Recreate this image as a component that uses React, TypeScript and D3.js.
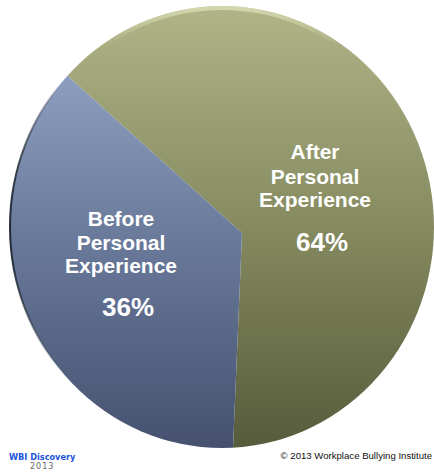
import React, { useMemo } from "react";
import * as d3 from "d3";

// ---- data ----
const categories = ["After", "Before"];
const labelLines = [
  ["After", "Personal", "Experience"],
  ["Before", "Personal", "Experience"],
];
const values = [64, 36];
const percentLabels = ["64%", "36%"];

// ---- layout ----
const W = 434;
const H = 474;
const apex = { x: 242, y: 233 };
const ell = { cx: 222, cy: 227, rx: 212, ry: 221 };
const startDeg = -48;
const labelPos = [
  { x: 315, lines: [159, 184, 207], px: 322, py: 251 },
  { x: 121, lines: [226, 250, 273], px: 128, py: 316 },
];
const gradIds = ["gOlive", "gBlue"];

export default function App() {
  const arcs = useMemo(() => {
    const pie = d3
      .pie<number>()
      .sort(null)
      .value((d) => d)
      .startAngle((startDeg * Math.PI) / 180)
      .endAngle((startDeg * Math.PI) / 180 + 2 * Math.PI);
    return pie(values);
  }, []);
  const arcGen = d3.arc<d3.PieArcDatum<number>>().innerRadius(0).outerRadius(330);
  const gy1 = ell.cy - ell.ry - apex.y;
  const gy2 = ell.cy + ell.ry - apex.y;

  return (
    <svg
      width={W}
      height={H}
      viewBox={`0 0 ${W} ${H}`}
      style={{ position: "absolute", left: 0, top: 0, background: "#fff" }}
    >
      <defs>
        <clipPath id="ellClip">
          <ellipse cx={ell.cx} cy={ell.cy} rx={ell.rx} ry={ell.ry} />
        </clipPath>
        <linearGradient id="gOlive" gradientUnits="userSpaceOnUse" x1="0" y1={gy1} x2="0" y2={gy2}>
          <stop offset="0" stopColor="#b0b487" />
          <stop offset="0.5" stopColor="#858a60" />
          <stop offset="1" stopColor="#565b3c" />
        </linearGradient>
        <linearGradient id="gBlue" gradientUnits="userSpaceOnUse" x1="0" y1={gy1} x2="0" y2={gy2}>
          <stop offset="0" stopColor="#9cadcd" />
          <stop offset="0.5" stopColor="#6c7c9d" />
          <stop offset="1" stopColor="#45516f" />
        </linearGradient>
        <linearGradient id="gRim" gradientUnits="userSpaceOnUse" x1={ell.cx - ell.rx} y1="0" x2={ell.cx - ell.rx + 50} y2="0">
          <stop offset="0" stopColor="#1b2430" stopOpacity="0.95" />
          <stop offset="1" stopColor="#1b2430" stopOpacity="0" />
        </linearGradient>
        <linearGradient id="gTop" gradientUnits="userSpaceOnUse" x1="0" y1={ell.cy - ell.ry} x2="0" y2={ell.cy - ell.ry + 40}>
          <stop offset="0" stopColor="#f4f6cf" stopOpacity="0.55" />
          <stop offset="1" stopColor="#f4f6cf" stopOpacity="0" />
        </linearGradient>
      </defs>

      <g clipPath="url(#ellClip)">
        {arcs.map((a, i) => (
          <path
            key={categories[i]}
            d={arcGen(a) || ""}
            transform={`translate(${apex.x},${apex.y})`}
            fill={`url(#${gradIds[i]})`}
          />
        ))}
        <ellipse
          cx={ell.cx}
          cy={ell.cy}
          rx={ell.rx - 2}
          ry={ell.ry - 2}
          fill="none"
          stroke="url(#gTop)"
          strokeWidth={4}
        />
      </g>
      <ellipse
        cx={ell.cx}
        cy={ell.cy}
        rx={ell.rx}
        ry={ell.ry}
        fill="none"
        stroke="url(#gRim)"
        strokeWidth={2}
      />

      {labelPos.map((p, i) => (
        <g key={`lab${i}`} fontFamily="'Liberation Sans', Arial, sans-serif" fontWeight="bold" fill="#ffffff" textAnchor="middle">
          {labelLines[i].map((t, j) => (
            <text key={j} x={p.x} y={p.lines[j]} fontSize={21}>
              {t}
            </text>
          ))}
          <text x={p.px} y={p.py} fontSize={26}>
            {percentLabels[i]}
          </text>
        </g>
      ))}

      <text x={9} y={460} fontFamily="'DejaVu Sans', Verdana, sans-serif" fontWeight="bold" fontSize={8.2} fill="#2155e0">
        WBI Discovery
      </text>
      <text x={30} y={469} fontFamily="'DejaVu Sans', Verdana, sans-serif" fontSize={8} letterSpacing={1} fill="#666">
        2013
      </text>
      <text x={432} y={459} textAnchor="end" fontFamily="'Liberation Sans', Arial, sans-serif" fontSize={9.6} fill="#111">
        © 2013 Workplace Bullying Institute
      </text>
    </svg>
  );
}
